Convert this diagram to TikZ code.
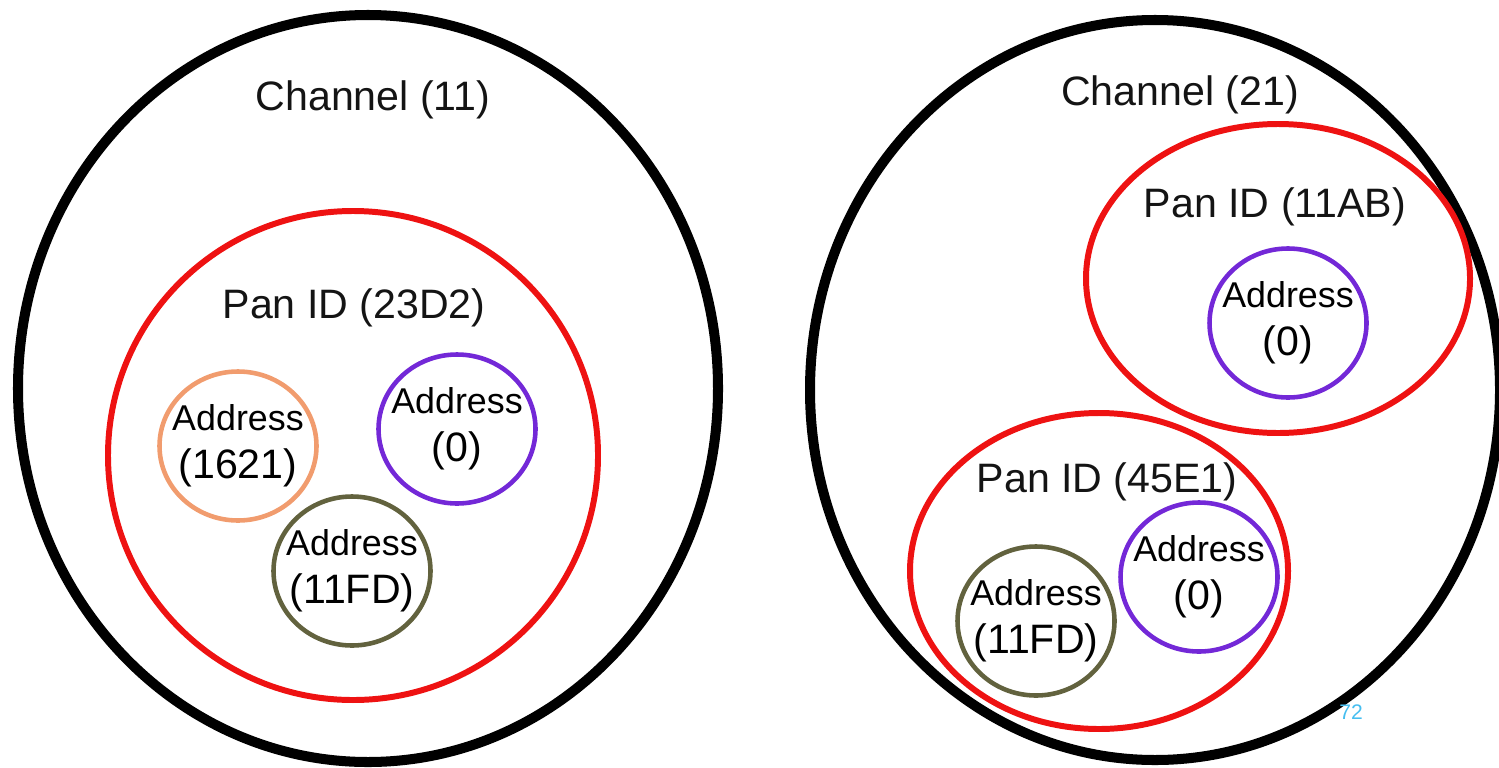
\documentclass[tikz,border=0pt]{standalone}
\usepackage{fontspec}
\setmainfont{Liberation Sans}
\usepackage{xcolor}
\usetikzlibrary{shapes.geometric}

\definecolor{panred}{RGB}{238,18,18}
\definecolor{addrorange}{RGB}{241,156,110}
\definecolor{addrpurple}{RGB}{115,40,215}
\definecolor{addrolive}{RGB}{98,98,62}
\definecolor{pageblue}{RGB}{70,190,240}

\begin{document}
\begin{tikzpicture}[
  x=1cm,y=1cm,
  font=\fontsize{11.7}{14}\selectfont,
  chan/.style={ellipse,draw=black,line width=2.85pt,inner sep=0pt},
  pan/.style={ellipse,draw=panred,line width=1.7pt,inner sep=0pt},
  addr/.style={ellipse,draw,line width=1.3pt,inner ysep=0pt,inner xsep=-0.12cm,
    minimum width=1.57cm,minimum height=1.49cm,align=center,
    font=\fontsize{11.7}{13.8}\selectfont},
  lbl/.style={inner sep=0pt,text=black!92},
  pagenum/.style={font=\fontsize{6}{7}\selectfont,text=pageblue,inner sep=0pt}
]
\useasboundingbox (0,0) rectangle (14.99,7.67);

\newcommand{\addrtxt}[1]{{\fontsize{10.2}{13.8}\selectfont Address}\\#1}

%%%%%%%%%%%%%%%%%%%%%%%%%%%%%%%%%%%%%%%%%%%%%%%%%%%%
% Channel 11
%%%%%%%%%%%%%%%%%%%%%%%%%%%%%%%%%%%%%%%%%%%%%%%%%%%%
\node[chan,minimum width=7.00cm,minimum height=7.47cm] (chA) at (3.68,3.785) {};
\node[lbl] (chAlbl) at (3.73,6.67) {Channel (11)};

\node[pan,minimum width=4.90cm,minimum height=4.89cm] (panA) at (3.53,3.115) {};
\node[lbl] (panAlbl) at (3.54,4.59) {Pan ID (23D2)};

\node[addr,draw=addrorange] (aA1) at (2.38,3.21) {\addrtxt{(1621)}};
\node[addr,draw=addrpurple] (aA2) at (4.57,3.38) {\addrtxt{(0)}};
\node[addr,draw=addrolive] (aA3) at (3.52,1.96) {\addrtxt{(11FD)}};

%%%%%%%%%%%%%%%%%%%%%%%%%%%%%%%%%%%%%%%%%%%%%%%%%%%%
% Channel 21
%%%%%%%%%%%%%%%%%%%%%%%%%%%%%%%%%%%%%%%%%%%%%%%%%%%%
\node[chan,minimum width=6.90cm,minimum height=7.40cm] (chB) at (11.55,3.77) {};
\node[lbl] (chBlbl) at (11.80,6.72) {Channel (21)};

\node[pan,minimum width=3.84cm,minimum height=3.09cm] (panB1) at (12.78,4.885) {};
\node[lbl] (panB1lbl) at (12.75,5.60) {Pan ID (11AB)};
\node[addr,draw=addrpurple] (aB1) at (12.88,4.44) {\addrtxt{(0)}};

\node[pan,minimum width=3.78cm,minimum height=3.16cm] (panB2) at (10.99,1.96) {};
\node[lbl] (panB2lbl) at (11.07,2.85) {Pan ID (45E1)};
\node[addr,draw=addrolive] (aB2) at (10.36,1.46) {\addrtxt{(11FD)}};
\node[addr,draw=addrpurple] (aB3) at (11.99,1.90) {\addrtxt{(0)}};

\node[pagenum] (pg) at (13.51,0.55) {72};

\end{tikzpicture}
\end{document}
